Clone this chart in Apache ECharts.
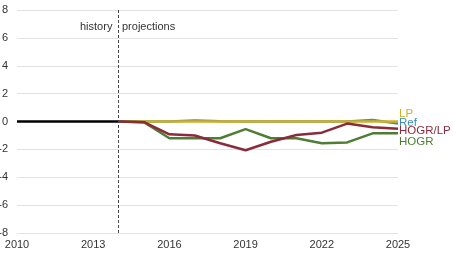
<!DOCTYPE html>
<html>
<head>
<meta charset="utf-8">
<script src="https://cdn.jsdelivr.net/npm/echarts@6/dist/echarts.min.js"></script>
<style>
  html, body { margin: 0; padding: 0; background: #fff; }
  #chart { width: 453px; height: 263px; }
</style>
</head>
<body>
<div id="chart"></div>
<script>
// years
var histYears = [2010, 2011, 2012, 2013, 2014]
var projYears = [2014, 2015, 2016, 2017, 2018, 2019, 2020, 2021, 2022, 2023, 2024, 2025]

// values (% deviation)
var histValues = [0, 0, 0, 0, 0]
var ref = [0, 0, 0, 0.08, 0.02, 0, 0, 0, 0, 0, 0.1, -0.15]
var lp = [0, 0, 0, 0, 0, 0, 0, 0, 0, 0, 0, 0]
var hogr = [0, -0.05, -1.2, -1.2, -1.2, -0.55, -1.2, -1.2, -1.56, -1.5, -0.85, -0.85]
var hogrLp = [0, -0.05, -0.92, -1.0, -1.56, -2.06, -1.45, -0.97, -0.8, -0.15, -0.42, -0.52]

function pairs(xs, ys) {
  return xs.map(function (x, i) { return [x, ys[i]] })
}

var chart = echarts.init(document.getElementById('chart'))

function projSeries(name, data, color, offsetY) {
  return {
    name: name,
    type: 'line',
    data: pairs(projYears, data),
    symbol: 'none',
    lineStyle: { color: color, width: 2.5 },
    itemStyle: { color: color },
    endLabel: {
      show: true,
      formatter: name,
      color: color,
      fontSize: 11.5,
      distance: 1,
      offset: [0, offsetY]
    }
  }
}

chart.setOption({
  animation: false,
  textStyle: { fontFamily: 'Liberation Sans, Arial, sans-serif' },
  grid: { left: 17, right: 55, top: 10, bottom: 30, outerBoundsMode: 'none' },
  xAxis: {
    type: 'value',
    min: 2010,
    max: 2025,
    interval: 3,
    axisLine: { show: false },
    axisTick: { show: false },
    splitLine: { show: false },
    axisLabel: { color: '#333', fontSize: 11, margin: 6, formatter: function (v) { return String(v) } }
  },
  yAxis: {
    type: 'value',
    min: -8,
    max: 8,
    interval: 2,
    axisLine: { show: false },
    axisTick: { show: false },
    splitLine: { lineStyle: { color: '#e3e3e3', width: 1 } },
    axisLabel: { color: '#333', fontSize: 11, margin: 9 }
  },
  graphic: [
    { type: 'text', left: 80, top: 21, style: { text: 'history', fill: '#333', fontSize: 11, fontFamily: 'Liberation Sans, Arial, sans-serif' } },
    { type: 'text', left: 122, top: 21, style: { text: 'projections', fill: '#333', fontSize: 11, fontFamily: 'Liberation Sans, Arial, sans-serif' } }
  ],
  series: [
    {
      name: 'history',
      type: 'line',
      data: pairs(histYears, histValues),
      symbol: 'none',
      z: 3,
      lineStyle: { color: '#000', width: 2.5 },
      markLine: {
        silent: true,
        symbol: 'none',
        label: { show: false },
        lineStyle: { color: '#444', type: [3, 2], width: 1 },
        data: [{ xAxis: 2014 }]
      }
    },
    projSeries('Ref', ref, '#3a8db5', -1),
    projSeries('LP', lp, '#d8ae1e', -8),
    projSeries('HOGR', hogr, '#4f7d34', 8),
    projSeries('HOGR/LP', hogrLp, '#8a2a3b', 2)
  ]
})
</script>
</body>
</html>
